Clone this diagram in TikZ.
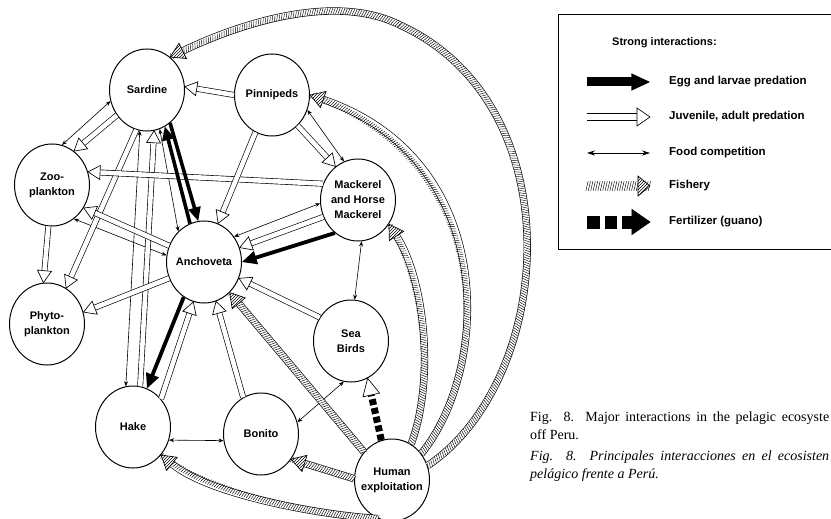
\documentclass[tikz,border=0pt]{standalone}
\usepackage{fontspec}
\setmainfont{Liberation Serif}
\newfontfamily\labelfont{Liberation Sans}
\usepackage{tikz}
\usetikzlibrary{arrows.meta}
\usetikzlibrary{shapes.geometric}
\usetikzlibrary{decorations.markings}
\usetikzlibrary{patterns}
\tikzset{
      arband/.store in=\arB, arlen/.store in=\arL, arwid/.store in=\arH, arfill/.store in=\arF,
      arband=4.6pt, arlen=12pt, arwid=7pt, arfill=white,
      species/.style={ellipse, draw=black, line width=1pt, fill=white, minimum width=75pt,
            minimum height=82pt, inner xsep=-12pt, inner ysep=-4pt, align=center,
            font=\labelfont\fontsize{11}{15}\selectfont\bfseries},
      bandout/.style={draw=black, line width=\arB+1.3pt, shorten >=\arL},
      bandin/.style={draw=white, line width=\arB, shorten >=\arL},
      juvtip/.style={decoration={markings, mark=at position 0.9999 with
            {\draw[line width=0.65pt, fill=white] (0pt,0pt) -- (-\arL,\arH) -- (-\arL,-\arH) -- cycle;}}, decorate},
      fishhatch/.style={decoration={markings, mark=between positions 0 and 1 step 2.4pt with
            {\draw[line width=0.45pt] (-1.1pt,-\arB/2) -- (1.1pt,\arB/2);}}, decorate},
      fishtip/.style={decoration={markings, mark=at position 0.9999 with
            {\fill[white] (0pt,0pt) -- (-\arL,\arH) -- (-\arL,-\arH) -- cycle;
             \draw[line width=0.65pt, pattern=north east lines] (0pt,0pt) -- (-\arL,\arH) -- (-\arL,-\arH) -- cycle;}}, decorate},
      eggband/.style={draw=black, line width=\arB, shorten >=\arL},
      eggtip/.style={decoration={markings, mark=at position 0.9999 with
            {\fill[black] (0pt,0pt) -- (-\arL-0.6pt,\arH) -- (-\arL-0.6pt,-\arH) -- cycle;}}, decorate},
      fertband/.style={draw=black, line width=\arB, shorten >=\arL},
      ferttip/.style={decoration={markings, mark=at position 0.9999 with
            {\draw[solid, line width=0.65pt, fill=\arF] (0pt,0pt) -- (-\arL,\arH) -- (-\arL,-\arH) -- cycle;}}, decorate},
      comp/.style={line width=0.6pt, arrows={Stealth[length=5pt,width=4pt]-Stealth[length=5pt,width=4pt]}},
      legtext/.style={anchor=west, inner sep=0pt, font=\labelfont\fontsize{11.5}{13}\selectfont\bfseries},
      capt/.style={anchor=base west, inner sep=0pt, font=\fontsize{14}{16}\selectfont},
}
\newcommand\juvarrow[2][]{%
      \draw[#1, bandout] #2;
      \draw[#1, bandin] #2;
      \path[#1, juvtip] #2;
}
\newcommand\fisharrow[2][]{%
      \draw[#1, bandout] #2;
      \draw[#1, bandin] #2;
      \path[#1, fishhatch] #2;
      \path[#1, fishtip] #2;
}
\newcommand\eggarrow[2][]{%
      \draw[#1, eggband] #2;
      \path[#1, eggtip] #2;
}
\newcommand\fertarrow[2][]{%
      \draw[#1, fertband] #2;
      \path[#1, ferttip] #2;
}
\begin{document}
\begin{tikzpicture}[x=1pt, y=-1pt]
        \useasboundingbox (0,0) rectangle (831,519);
        \clip (0,0) rectangle (831,519);

        % Draw the species
        \node[species] (sar) at (147,90) {Sardine};
        \node[species] (pin) at (272,95) {Pinnipeds};
        \node[species] (zoo) at (52,185) {Zoo-\\plankton};
        \node[species] (mac) at (358,200) {Mackerel\\and Horse\\Mackerel};
        \node[species] (anc) at (204,262) {Anchoveta};
        \node[species] (phy) at (47,324) {Phyto-\\plankton};
        \node[species] (sea) at (351,341) {Sea\\Birds};
        \node[species] (hak) at (133,427) {Hake};
        \node[species] (bon) at (261,434) {Bonito};
        \node[species] (hum) at (392,480) {Human\\exploitation};

        % Food competition
        \draw[comp] (sar.197) -- (zoo.76);
        \draw[comp] (sar.-100) -- (hak.100);
        \draw[comp] (sar.-72) -- (anc.130);
        \draw[comp] (zoo.-57) -- (anc.170);
        \draw[comp] (pin.-23) -- (mac.110);
        \draw[comp] (mac.185) -- (anc.40);
        \draw[comp] (mac.-85) -- (sea.85);
        \draw[comp] (sea.-100) -- (bon.18);
        \draw[comp] (hak.-20) -- (bon.190);

        % Juvenile, adult predation
        \juvarrow{(pin.180) -- (sar.5)}
        \juvarrow{(sar.220) -- (zoo.57)}
        \juvarrow{(zoo.-95) -- (phy.95)}
        \juvarrow{(sar.255) -- (phy.62)}
        \juvarrow{(hak.80) -- (sar.-80)}
        \juvarrow{(anc.155) -- (zoo.-36)}
        \juvarrow{(mac.155) -- (zoo.20)}
        \juvarrow{(pin.246) -- (anc.70)}
        \juvarrow{(pin.-50) -- (mac.124)}
        \juvarrow{(mac.206) -- (anc.22)}
        \juvarrow{(sea.143) -- (anc.-25)}
        \juvarrow{(bon.116) -- (anc.-73)}
        \juvarrow{(hak.45) -- (anc.-105)}
        \juvarrow{(anc.205) -- (phy.18)}

        % Egg and larvae predation
        \eggarrow[arband=3.6pt, arlen=13pt, arwid=6.5pt]{(sar.-55) -- (anc.98)}
        \eggarrow[arband=3.6pt, arlen=13pt, arwid=6.5pt]{(anc.110) -- (sar.-64)}
        \eggarrow[arband=3.8pt, arlen=14pt, arwid=7pt]{(mac.235) -- (anc.0)}
        \eggarrow[arband=3.8pt, arlen=14pt, arwid=7pt]{(anc.-120) -- (hak.70)}

        % Fishery
        \coordinate (arctop) at (400,25);
        \fisharrow[arband=6pt, arlen=14pt, arwid=8.5pt]{(hum.135) -- (anc.-50)}
        \fisharrow[arband=6pt, arlen=14pt, arwid=8.5pt]{(hum.178) -- (bon.-40)}
        \fisharrow[arband=6pt, arlen=14pt, arwid=8.5pt]{(hum.62) .. controls (435,380) and (425,280) .. (mac.-38)}
        \fisharrow[arband=6pt, arlen=14pt, arwid=8.5pt]{(hum.42) .. controls (490,370) and (500,160) .. (pin.0)}
        \fisharrow[arband=6pt, arlen=14pt, arwid=8.5pt]{(hum.22) .. controls (555,380) and (575,105) .. (arctop) .. controls (330,-10) and (228,29) .. (sar.55)}
        \fisharrow[arband=6pt, arlen=14pt, arwid=8.5pt]{(hum.250) .. controls (320,515) and (210,495) .. (hak.-45)}

        % Fertilizer (guano)
        \fertarrow[arband=7pt, arlen=17pt, arwid=8.5pt, dash pattern=on 6pt off 3pt]{(hum.105) -- (sea.-66)}

        % Legend
        \draw[line width=1pt] (558,15) rectangle (845,249);
        \node[legtext, font=\labelfont\fontsize{11}{13}\selectfont\bfseries] (legtitle) at (612,43) {Strong interactions:};
        \coordinate (le1a) at (587,82);  \coordinate (le1b) at (650,82);
        \coordinate (le2a) at (587,117); \coordinate (le2b) at (650,117);
        \coordinate (le3a) at (587,153); \coordinate (le3b) at (650,153);
        \coordinate (le4a) at (587,186); \coordinate (le4b) at (650,186);
        \coordinate (le5a) at (587,222); \coordinate (le5b) at (650,222);
        \eggarrow[arband=9pt, arlen=18pt, arwid=8.7pt]{(le1a) -- (le1b)}
        \juvarrow[arband=6.8pt, arlen=13pt, arwid=9pt]{(le2a) -- (le2b)}
        \draw[comp, arrows={Stealth[length=8pt,width=5pt]-Stealth[length=8pt,width=5pt]}] (le3a) -- (le3b);
        \fisharrow[arband=9.5pt, arlen=12pt, arwid=10pt]{(le4a) -- (le4b)}
        \fertarrow[arband=13pt, arlen=18pt, arwid=12.5pt, arfill=black, dash pattern=on 12.5pt off 5pt]{(le5a) -- (le5b)}
        \node[legtext] (leg1) at (669,82) {Egg and larvae predation};
        \node[legtext] (leg2) at (669,117) {Juvenile, adult predation};
        \node[legtext] (leg3) at (669,153) {Food competition};
        \node[legtext] (leg4) at (669,186) {Fishery};
        \node[legtext] (leg5) at (669,222) {Fertilizer (guano)};

        % Caption
        \node[capt] (cap1) at (530,421) {\makebox[299pt][s]{Fig. 8. Major interactions in the pelagic ecosyste}};
        \node[capt] (cap2) at (530,439) {off Peru.};
        \node[capt] (cap3) at (530,460) {\itshape\makebox[299pt][s]{Fig. 8. Principales interacciones en el ecosisten}};
        \node[capt] (cap4) at (530,478) {\itshape pelágico frente a Perú.};

    \end{tikzpicture}
\end{document}
